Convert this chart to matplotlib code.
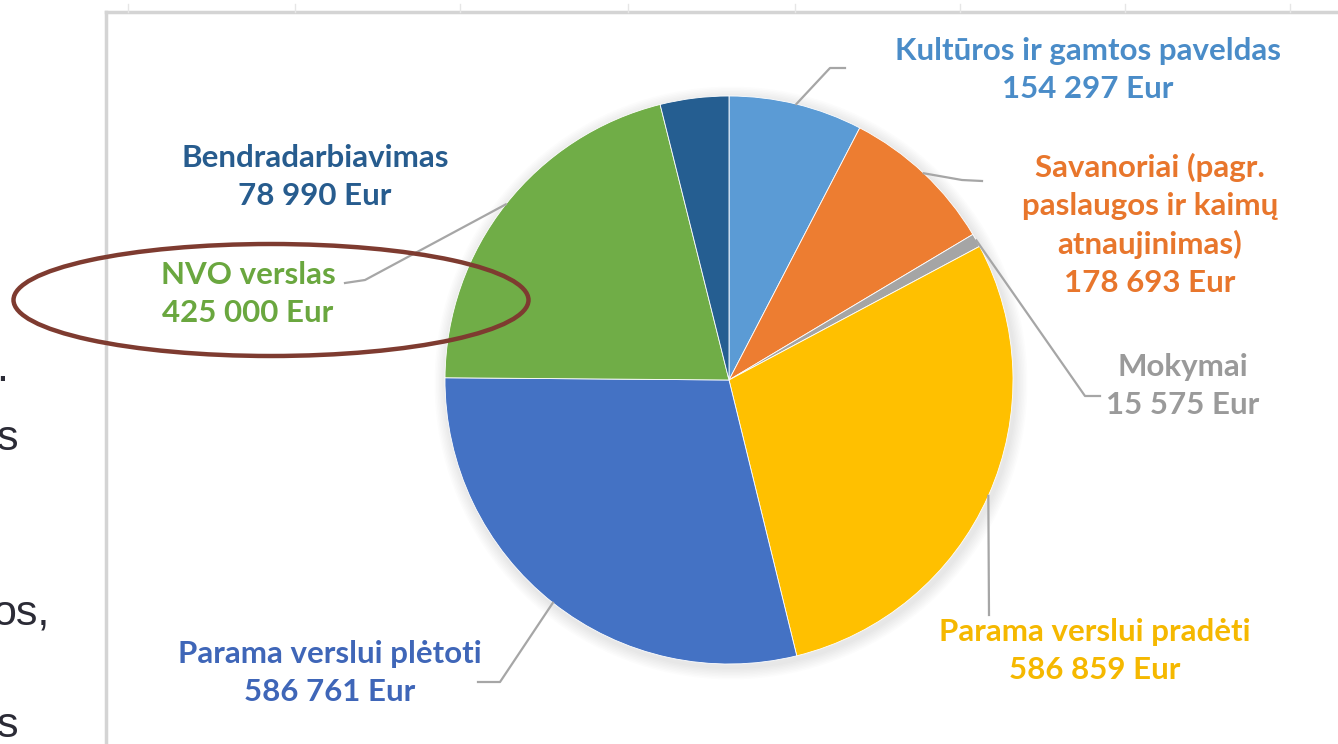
import numpy as np
import matplotlib.pyplot as plt
from matplotlib.patches import Ellipse, Circle

plt.rcParams['font.family'] = ['Lato', 'DejaVu Sans']

# data (clockwise from the top)
names = ["Kultūros ir gamtos paveldas", "Savanoriai (pagr.\npaslaugos ir kaimų\natnaujinimas)",
         "Mokymai", "Parama verslui pradėti", "Parama verslui plėtoti", "NVO verslas",
         "Bendradarbiavimas"]
amounts = [154297, 178693, 15575, 586859, 586761, 425000, 78990]
amount_labels = ["154 297 Eur", "178 693 Eur", "15 575 Eur", "586 859 Eur",
                 "586 761 Eur", "425 000 Eur", "78 990 Eur"]

colors = ["#5B9BD5", "#ED7D31", "#A5A5A5", "#FFC000", "#4472C4", "#70AD47", "#255E91"]
text_colors = ["#4A8CC8", "#E8762C", "#9A9A9A", "#F5B800", "#3F66B8", "#6AA73F", "#275C8E"]

W, H = 1338, 744
fig = plt.figure(figsize=(W / 100, H / 100), dpi=100)
ax = fig.add_axes([0, 0, 1, 1])

cx, cy, r = 729, H - 380, 284

# soft shadow
for k in range(8):
    ax.add_patch(Circle((cx + 2, cy - 3), r + 2 + k * 1.5, color='black', alpha=0.012, lw=0, zorder=1))

wedges, _ = ax.pie(amounts, colors=colors, startangle=90, counterclock=False,
                   center=(cx, cy), radius=r, frame=True,
                   wedgeprops=dict(edgecolor='white', linewidth=0.6))
for w in wedges:
    w.set_zorder(2)
ax.set_xlim(0, W)
ax.set_ylim(0, H)
ax.set_aspect('equal')
ax.axis('off')

# label positions (layout)
label_pos = [(1088, 70), (1150, 225), (1183, 386), (1095, 651), (330, 673), (248, 294), (315, 177)]
leader_ends = [[(830, 68), (845, 68)], [(962, 180), (982, 181)], [(1085, 396), (1100, 396)],
               [(989, 615)], [(500, 682), (478, 682)], [(365, 280), (345, 283)], None]

for i, w in enumerate(wedges):
    ang = np.deg2rad((w.theta1 + w.theta2) / 2)
    sx, sy = cx + r * np.cos(ang), cy + r * np.sin(ang)
    if leader_ends[i] is not None:
        xs = [sx] + [p[0] for p in leader_ends[i]]
        ys = [sy] + [H - p[1] for p in leader_ends[i]]
        ax.plot(xs, ys, color='#A6A6A6', lw=1.6, zorder=3)
    lx, ly = label_pos[i]
    ax.text(lx, H - ly, names[i] + "\n" + amount_labels[i], color=text_colors[i],
            fontsize=22.5, fontweight='bold', ha='center', va='center',
            linespacing=1.42, zorder=4)

# chart frame of the screenshot
ax.plot([106, 106], [0, H - 12], color='#D4D4D4', lw=2.5, zorder=0)
ax.plot([106, W], [H - 12, H - 12], color='#D4D4D4', lw=2.5, zorder=0)
for gx in [128, 295, 460, 628, 795, 960, 1125, 1290]:
    ax.plot([gx, gx], [H - 12, H - 4], color='#E6E6E6', lw=1, zorder=0)

# hand-drawn highlight ellipse
ax.add_patch(Ellipse((271, H - 300), 515, 112, fill=False, edgecolor='#7E3B30', lw=3.2, zorder=5))

# cut-off text from the page on the left (cropped in the reference screenshot)
for t, x, y in [(".", -4, 381), ("s", -3, 450), ("os,", -8, 625), ("s", -3, 737)]:
    ax.text(x, H - y, t, fontsize=31, color='#2B2B36', ha='left', va='baseline',
            family=['Liberation Sans', 'DejaVu Sans'])

fig.savefig("out.png", dpi=100)
